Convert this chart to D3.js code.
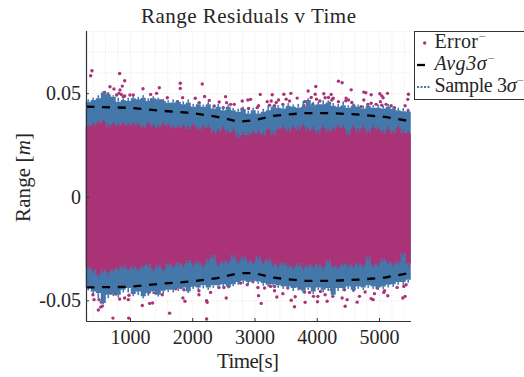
<!DOCTYPE html>
<html lang="en">
<head>
<meta charset="utf-8">
<title>Range Residuals v Time</title>
<script src="https://d3js.org/d3.v7.min.js"></script>
<style>
  body { margin: 0; background: #fff; overflow: hidden; }
  svg { display: block; }
  text { font-family: "Liberation Serif", serif; fill: #262626; }
  .domain { stroke: #333; stroke-width: 1.2; }
  .tick line { stroke: #333; }
  .grid line { stroke: #d8d8d8; stroke-width: 0.6; stroke-dasharray: 1 1.5; }
  .grid .domain { display: none; }
</style>
</head>
<body>
<svg id="chart" width="524" height="377"></svg>
<script>
// time of each column of the dense sample cloud
var bandTime = [290,370,451,531,611,692,772,852,932,1013,1093,1173,1254,1334,1414,1495,1575,1655,1735,1816,1896,1976,2057,2137,2217,2298,2378,2458,2538,2619,2699,2779,2860,2940,3020,3101,3181,3261,3341,3422,3502,3582,3663,3743,3823,3904,3984,4064,4144,4225,4305,4385,4466,4546,4626,4707,4787,4867,4947,5028,5108,5188,5269,5349,5429,5510];

// upper and lower limits of the blue (sample 3 sigma) cloud
var blueTop = [.0459,.0467,.0475,.0503,.0494,.0483,.0459,.0467,.0462,.0475,.0470,.0478,.0462,.0475,.0470,.0462,.0454,.0455,.0459,.0446,.0455,.0434,.0446,.0434,.0446,.0426,.0434,.0418,.0434,.0418,.0410,.0423,.0402,.0418,
  .0402,.0410,.0418,.0434,.0430,.0426,.0439,.0434,.0430,.0434,.0467,.0442,.0446,.0446,.0455,.0439,.0434,.0442,.0430,.0439,.0434,.0426,.0439,.0430,.0430,.0426,.0434,.0423,.0418,.0413,.0410,.0402];
var blueBottom = [-.0441,-.0457,-.0465,-.0513,-.0473,-.0465,-.0473,-.0449,-.0441,-.0470,-.0457,-.0481,-.0465,-.0457,-.0473,-.0454,-.0449,-.0449,-.0441,-.0438,-.0457,-.0433,-.0438,-.0428,-.0438,-.0428,-.0428,-.0422,-.0433,-.0422,-.0412,-.0406,-.0412,-.0406,
  -.0409,-.0417,-.0425,-.0422,-.0428,-.0433,-.0433,-.0441,-.0438,-.0454,-.0438,-.0457,-.0438,-.0449,-.0441,-.0473,-.0441,-.0441,-.0433,-.0449,-.0433,-.0438,-.0428,-.0433,-.0438,-.0433,-.0425,-.0422,-.0412,-.0412,-.0401,-.0385];

// upper and lower limits of the solid pink error cloud
var pinkTop = [.0338,.0346,.0354,.0362,.0338,.0349,.0343,.0349,.0343,.0349,.0346,.0330,.0349,.0338,.0333,.0346,.0343,.0330,.0333,.0338,.0327,.0343,.0322,.0330,.0333,.0306,.0314,.0322,.0306,.0314,.0285,.0298,.0295,.0306,
  .0306,.0295,.0322,.0298,.0322,.0330,.0314,.0330,.0322,.0338,.0317,.0322,.0306,.0330,.0314,.0322,.0333,.0330,.0298,.0330,.0314,.0330,.0306,.0330,.0322,.0306,.0322,.0306,.0330,.0306,.0306,.0322];
var pinkBottom = [-.0337,-.0353,-.0374,-.0353,-.0364,-.0348,-.0345,-.0332,-.0345,-.0337,-.0345,-.0332,-.0325,-.0348,-.0329,-.0348,-.0321,-.0332,-.0316,-.0329,-.0305,-.0321,-.0313,-.0329,-.0300,-.0281,-.0321,-.0309,-.0313,-.0281,-.0309,-.0289,-.0305,-.0313,
  -.0289,-.0313,-.0300,-.0321,-.0329,-.0316,-.0329,-.0337,-.0321,-.0337,-.0329,-.0332,-.0325,-.0337,-.0305,-.0332,-.0337,-.0321,-.0329,-.0329,-.0321,-.0329,-.0289,-.0329,-.0321,-.0297,-.0313,-.0321,-.0313,-.0272,-.0321,-.0305];

// narrow outlying runs of points between the columns
var blueTopSpike = [.0470,.0478,.0490,.0510,.0505,.0490,.0478,.0475,.0478,.0485,.0482,.0490,.0475,.0485,.0478,.0472,.0465,.0470,.0465,.0460,.0470,.0448,.0458,.0445,.0458,.0440,.0448,.0432,.0445,.0428,.0425,.0435,.0415,.0430,
  .0415,.0425,.0440,.0442,.0442,.0445,.0452,.0445,.0448,.0460,.0475,.0458,.0458,.0465,.0465,.0452,.0448,.0460,.0442,.0450,.0445,.0440,.0450,.0442,.0445,.0440,.0448,.0435,.0430,.0428,.0425];
var blueBottomSpike = [-.0452,-.0470,-.0490,-.0520,-.0490,-.0480,-.0485,-.0462,-.0462,-.0480,-.0475,-.0490,-.0478,-.0470,-.0482,-.0468,-.0460,-.0462,-.0455,-.0452,-.0465,-.0445,-.0450,-.0442,-.0450,-.0440,-.0442,-.0435,-.0442,-.0432,-.0425,-.0420,-.0425,-.0418,
  -.0420,-.0430,-.0435,-.0435,-.0440,-.0445,-.0445,-.0455,-.0452,-.0465,-.0450,-.0470,-.0450,-.0462,-.0455,-.0480,-.0455,-.0455,-.0445,-.0460,-.0445,-.0450,-.0440,-.0445,-.0450,-.0445,-.0438,-.0435,-.0425,-.0425,-.0415];
var pinkTopSpike = [.0350,.0358,.0368,.0372,.0352,.0360,.0355,.0362,.0358,.0360,.0358,.0345,.0362,.0350,.0348,.0358,.0355,.0345,.0348,.0350,.0342,.0355,.0338,.0345,.0348,.0322,.0330,.0338,.0322,.0330,.0302,.0312,.0310,.0320,
  .0322,.0310,.0335,.0315,.0335,.0345,.0330,.0342,.0338,.0350,.0332,.0338,.0322,.0345,.0330,.0338,.0348,.0345,.0315,.0345,.0330,.0345,.0322,.0345,.0338,.0322,.0338,.0320,.0345,.0322,.0320];
var pinkBottomSpike = [-.0350,-.0368,-.0385,-.0365,-.0378,-.0360,-.0358,-.0345,-.0358,-.0350,-.0358,-.0345,-.0340,-.0360,-.0342,-.0360,-.0335,-.0345,-.0330,-.0342,-.0320,-.0335,-.0328,-.0342,-.0315,-.0298,-.0335,-.0322,-.0328,-.0298,-.0322,-.0305,-.0320,-.0328,
  -.0305,-.0328,-.0315,-.0335,-.0342,-.0330,-.0342,-.0350,-.0335,-.0350,-.0342,-.0345,-.0340,-.0350,-.0320,-.0345,-.0350,-.0335,-.0342,-.0342,-.0335,-.0342,-.0305,-.0342,-.0335,-.0312,-.0328,-.0335,-.0328,-.0288,-.0335];

// average 3 sigma curves
var avgTime = [300,1000,1500,2000,2400,2750,3000,3300,3800,4200,4700,5100,5514];
var avgUpper = [.0435,.0429,.0415,.0404,.0386,.0362,.0370,.0390,.0404,.0404,.0396,.0385,.0364];
var avgLower = [-.0438,-.0435,-.0420,-.0409,-.0393,-.0369,-.0369,-.0391,-.0406,-.0406,-.0400,-.0390,-.0367];

// single error points outside the cloud
var errTime = [390,369,834,915,679,743,877,840,861,594,647,786,824,893,915,1000,1054,1209,1332,1428,1471,1343,1503,1600,1808,1808,1846,2049,2161,2199,2274,2113,2434,2536,2552,2616,2675,2803,2937,2798,2905,2498,2354,1814,1760,1963,
  4349,4408,4553,3985,3862,3285,3092,3472,3584,3686,3911,3975,4114,4232,4189,4135,3996,4050,4264,4242,4472,4510,4467,4756,4788,4874,4756,5013,5045,5066,5136,5023,5473,5462,5419,5467,5248,5195,5114,5045,4954,4874,4820,4713,4563,4595,4349,4205,4151,3937,3804,3793,3509,3563,3386,3349,3269,3204,3242,3322,3456,3065,3044,2894,
  727,979,1637,2231,492,530,556,423,406,503,1198,1316,1364,834,915,974,984,770,701,1851,1883,2231,2241,2546,2108,2295,2777,2884,2589,2509,2429,2108,2001,1814,1867,1733,1519,1412,1305,1214,1118,583,540,
  3108,3065,3643,3590,3814,3359,3456,3654,4012,4167,4456,4408,4488,4649,4874,4906,5382,5419,5141,5077,4927,4777,4686,4258,4258,4135,4060,4018,3948,3884,3804,3723,3536,3322,3322,3258,3162,3055,2974,5291,5398,5435,5221,4970,5088,4595,4446,4296,4232];
var errValue = [.0608,.0584,.0595,.0560,.0531,.0520,.0534,.0515,.0494,.0503,.0494,.0491,.0499,.0483,.0486,.0491,.0491,.0521,.0494,.0499,.0526,.0467,.0462,.0478,.0548,.0523,.0478,.0475,.0544,.0484,.0465,.0454,.0457,.0483,.0454,.0446,.0446,.0462,.0470,.0423,.0426,.0430,.0438,.0439,.0459,.0430,
  .0558,.0550,.0516,.0532,.0510,.0492,.0494,.0495,.0499,.0476,.0479,.0495,.0497,.0494,.0479,.0478,.0471,.0462,.0475,.0467,.0476,.0467,.0463,.0505,.0502,.0492,.0467,.0497,.0487,.0478,.0499,.0459,.0495,.0470,.0439,.0415,.0430,.0439,.0446,.0442,.0446,.0451,.0446,.0434,.0455,.0439,.0459,.0451,.0442,.0446,.0459,.0439,.0471,.0462,.0467,.0455,.0462,.0459,.0442,.0439,.0446,.0439,.0430,.0467,
  -.0586,-.0586,-.0562,-.0590,-.0547,-.0533,-.0528,-.0497,-.0473,-.0497,-.0525,-.0515,-.0513,-.0494,-.0489,-.0497,-.0476,-.0470,-.0465,-.0489,-.0505,-.0502,-.0510,-.0489,-.0473,-.0462,-.0417,-.0425,-.0433,-.0438,-.0438,-.0454,-.0428,-.0438,-.0449,-.0444,-.0473,-.0465,-.0462,-.0473,-.0449,-.0489,-.0509,
  -.0515,-.0478,-.0531,-.0500,-.0510,-.0484,-.0468,-.0483,-.0507,-.0505,-.0529,-.0489,-.0497,-.0509,-.0492,-.0497,-.0489,-.0481,-.0478,-.0462,-.0468,-.0460,-.0481,-.0481,-.0465,-.0473,-.0457,-.0481,-.0481,-.0462,-.0460,-.0441,-.0441,-.0433,-.0454,-.0433,-.0441,-.0438,-.0409,-.0438,-.0433,-.0425,-.0412,-.0441,-.0454,-.0449,-.0449,-.0433,-.0449];

var xTicks = [1000,2000,3000,4000,5000];
var yTicks = [0.05,0,-0.05];
var yTickLabels = ["0.05","0","-0.05"];

var pink = "#AA3377", blue = "#4477AA";

var svg = d3.select("#chart");
var x = d3.scaleLinear().domain([294,5514]).range([86,411]);
var y = d3.scaleLinear().domain([-0.06,0.08]).range([321,31]);

// grid
svg.append("g").attr("class","grid").attr("transform","translate(0,321)")
  .call(d3.axisBottom(x).tickValues(d3.range(400,5501,200)).tickSize(-290).tickFormat(""));
svg.append("g").attr("class","grid").attr("transform","translate(86,0)")
  .call(d3.axisLeft(y).tickValues(d3.range(-0.05,0.0801,0.01)).tickSize(-325).tickFormat(""));

// clouds
function band(top, bottom) {
  var area = d3.area()
    .x(function(d,i) { return x(bandTime[i]); })
    .y0(function(d,i) { return y(bottom[i]); })
    .y1(function(d,i) { return y(top[i]); })
    .curve(d3.curveStepAfter);
  return area(bandTime);
}
function spikes(values, inner, colour) {
  svg.append("g").selectAll("line").data(values).enter().append("line")
    .attr("x1", function(d,i) { return x(bandTime[i]) + 2.5; })
    .attr("x2", function(d,i) { return x(bandTime[i]) + 2.5; })
    .attr("y1", function(d,i) { return y(inner[i]); })
    .attr("y2", function(d) { return y(d); })
    .attr("stroke", colour).attr("stroke-width", 1.6);
}
svg.append("g").selectAll("circle").data(errTime).enter().append("circle")
  .attr("cx", function(d) { return x(d); })
  .attr("cy", function(d,i) { return y(errValue[i]); })
  .attr("r", 1.7)
  .attr("fill", pink);
svg.append("path").attr("d", band(blueTop, blueBottom)).attr("fill", blue);
spikes(blueTopSpike, blueTop, blue);
spikes(blueBottomSpike, blueBottom, blue);
svg.append("path").attr("d", band(pinkTop, pinkBottom)).attr("fill", pink);
spikes(pinkTopSpike, pinkTop, pink);
spikes(pinkBottomSpike, pinkBottom, pink);

// average curves
var avgLine = d3.line().x(function(d,i) { return x(avgTime[i]); }).y(function(d) { return y(d); });
[avgUpper, avgLower].forEach(function(s) {
  svg.append("path").attr("d", avgLine(s))
    .attr("fill","none").attr("stroke","#000").attr("stroke-width",2.3).attr("stroke-dasharray","8 7.7");
});

// axes
var xAxis = d3.axisBottom(x).tickValues(xTicks).tickSize(-3).tickPadding(9).tickFormat(d3.format("d"));
var yAxis = d3.axisLeft(y).tickValues(yTicks).tickSize(-3).tickPadding(5)
  .tickFormat(function(d,i) { return yTickLabels[i]; });
svg.append("g").attr("transform","translate(0,321)").call(xAxis)
  .call(function(g) { g.select(".domain").attr("d","M86,0.5H411"); })
  .selectAll("text").attr("font-size",20).attr("fill","#262626");
svg.append("g").attr("transform","translate(86,0)").call(yAxis)
  .call(function(g) { g.select(".domain").attr("d","M0.5,31V321"); })
  .selectAll("text").attr("font-size",20).attr("fill","#262626");

// titles
svg.append("text").attr("x",248.5).attr("y",23).attr("text-anchor","middle")
  .attr("font-size",21).attr("textLength",215).text("Range Residuals v Time");
svg.append("text").attr("x",248).attr("y",368).attr("text-anchor","middle")
  .attr("font-size",21).attr("textLength",62).text("Time[s]");
var yl = svg.append("text").attr("transform","translate(30,177.5) rotate(-90)").attr("text-anchor","middle")
  .attr("font-size",21).attr("textLength",89);
yl.append("tspan").text("Range [");
yl.append("tspan").attr("font-style","italic").text("m");
yl.append("tspan").text("]");

// legend
svg.append("rect").attr("x",414.5).attr("y",31.5).attr("width",120).attr("height",68)
  .attr("fill","#fff").attr("stroke","#333").attr("stroke-width",1);
svg.append("circle").attr("cx",424.7).attr("cy",43).attr("r",1.7).attr("fill",pink);
svg.append("line").attr("x1",417).attr("x2",425).attr("y1",65).attr("y2",65).attr("stroke","#000").attr("stroke-width",2.3);
svg.append("line").attr("x1",417).attr("x2",431).attr("y1",87).attr("y2",87).attr("stroke",blue).attr("stroke-width",2).attr("stroke-dasharray","2 1.5");

function legendEntry(yPos, parts, width) {
  var t = svg.append("text").attr("x",434.5).attr("y",yPos).attr("font-size",20);
  parts.forEach(function(p) {
    t.append("tspan").attr("font-style", p[1] ? "italic" : "normal").text(p[0]);
  });
  t.append("tspan").attr("font-size",13).attr("dy",-7).attr("fill","#777").text("\u2212");
  if (width) t.attr("textLength",width);
}
legendEntry(48, [["Error",0]], 51);
legendEntry(70, [["Avg3\u03c3",1]], 60);
legendEntry(92, [["Sample 3",0],["\u03c3",1]], 89);
</script>
</body>
</html>
